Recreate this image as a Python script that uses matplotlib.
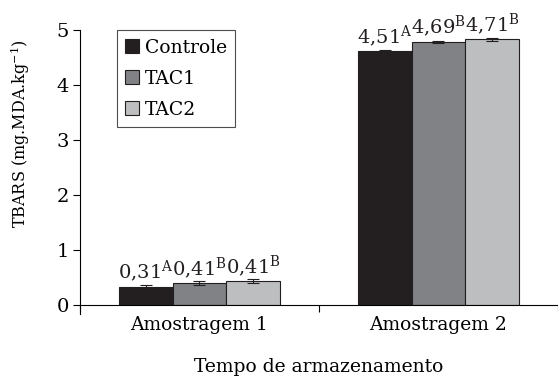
import matplotlib
matplotlib.use("Agg")
import matplotlib.pyplot as plt
import numpy as np

plt.rcParams['font.family'] = ['DejaVu Serif']
plt.rcParams['mathtext.fontset'] = 'dejavuserif'

categories = ["Amostragem 1", "Amostragem 2"]
series_names = ["Controle", "TAC1", "TAC2"]
values = {
    "Controle": [0.34, 4.62],
    "TAC1": [0.40, 4.79],
    "TAC2": [0.44, 4.83],
}
errors = {
    "Controle": [0.02, 0.02],
    "TAC1": [0.04, 0.02],
    "TAC2": [0.03, 0.02],
}
labels = {
    "Controle": ["0,31", "4,51"],
    "TAC1": ["0,41", "4,69"],
    "TAC2": ["0,41", "4,71"],
}
letters = {
    "Controle": ["A", "A"],
    "TAC1": ["B", "B"],
    "TAC2": ["B", "B"],
}
colors = {"Controle": "#231f20", "TAC1": "#808285", "TAC2": "#bcbec0"}

fig = plt.figure(figsize=(5.58, 3.76), dpi=100)
ax = fig.add_axes([0.143, 0.188, 0.857, 0.732])

x = np.arange(len(categories))
w = 0.224
for i, s in enumerate(series_names):
    pos = x + (i - 1) * w
    ax.bar(pos, values[s], width=w, color=colors[s], edgecolor="#231f20",
           linewidth=0.8, label=s, zorder=2)
    ax.errorbar(pos, values[s], yerr=errors[s], fmt="none", ecolor="#231f20",
                elinewidth=0.8, capsize=4, capthick=0.8, zorder=3)
    for p, v, lab, let in zip(pos, values[s], labels[s], letters[s]):
        ax.text(p, v + 0.04, lab + r"$^{\mathrm{" + let + "}}$", ha="center",
                va="bottom", fontsize=14, color="#231f20")

ax.set_xlim(-0.486, 1.465)
ax.set_ylim(0, 5)
ax.set_yticks([0, 1, 2, 3, 4, 5])
ax.set_xticks(x)
ax.set_xticklabels(categories, fontsize=13.5)
ax.set_xticks([-0.5, 0.5, 1.5], minor=True)
ax.tick_params(axis='x', which='major', length=0, pad=8)
ax.tick_params(axis='x', which='minor', length=5, width=0.8, direction='out')
ax.tick_params(axis='y', length=5, width=0.8, labelsize=14, pad=3)
for sp in ["top", "right"]:
    ax.spines[sp].set_visible(False)
ax.spines["left"].set_linewidth(0.8)
ax.spines["bottom"].set_linewidth(0.8)
ax.spines["left"].set_bounds(-0.15, 5)

ax.set_ylabel(r"TBARS (mg.MDA.kg$^{-1}$)", fontsize=11.5)
ax.yaxis.set_label_coords(-0.1, 0.625)
ax.set_xlabel("Tempo de armazenamento", fontsize=13.5, labelpad=17)

leg = ax.legend(loc="upper left", bbox_to_anchor=(0.077, 1.0), fontsize=13.5,
                frameon=True, fancybox=False, edgecolor="#231f20",
                handlelength=0.75, handleheight=0.75, handletextpad=0.3,
                labelspacing=0.7, borderpad=0.45, borderaxespad=0)
leg.get_frame().set_linewidth(0.8)

fig.savefig("out.png", dpi=100)
